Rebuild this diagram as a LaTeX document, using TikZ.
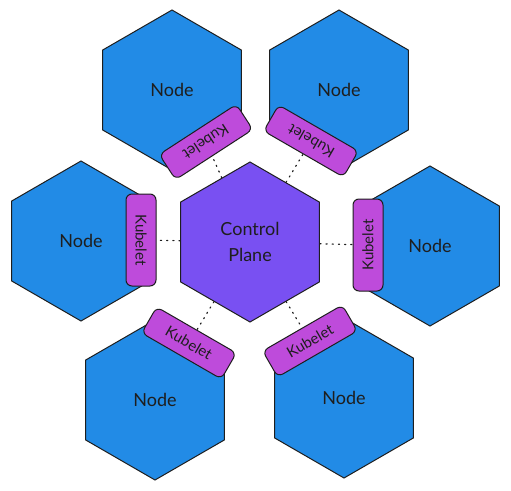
\documentclass[tikz,border=0pt]{standalone}
\usepackage{fontspec}
\setmainfont{Lato}
\usepackage{tikz}
\usetikzlibrary{shapes.geometric}
\usepackage{xcolor}
\definecolor{nodeblue}{HTML}{228BE6}
\definecolor{planeviolet}{HTML}{7950F2}
\definecolor{kubeletgrape}{HTML}{BE4BDB}
\definecolor{inkblack}{HTML}{1E1E1E}

\begin{document}
\begin{tikzpicture}[x=1pt, y=1pt,
  hexnode/.style={draw=inkblack, line width=1pt, regular polygon, regular polygon sides=6,
    regular polygon rotate=30, minimum size=160pt, inner sep=0pt, text=inkblack,
    font=\fontsize{18}{26}\selectfont, align=center},
  kubelet/.style={draw=inkblack, line width=1pt, rounded corners=6pt, fill=kubeletgrape,
    minimum width=92pt, minimum height=30pt, inner sep=0pt, text=inkblack,
    font=\fontsize{15}{18}\selectfont},
  link/.style={draw=inkblack, line width=1.2pt, dash pattern=on 1.2pt off 5pt, line cap=round},
]
\useasboundingbox (0,0) rectangle (511,-490);

\node[hexnode, fill=nodeblue] (nodeTL) at (172,-90) {Node};
\node[hexnode, fill=nodeblue] (nodeTR) at (339,-90) {Node};
\node[hexnode, fill=nodeblue] (nodeL) at (81,-241) {Node};
\node[hexnode, fill=nodeblue] (nodeR) at (430,-246) {Node};
\node[hexnode, fill=nodeblue] (nodeBL) at (155,-400) {Node};
\node[hexnode, fill=nodeblue] (nodeBR) at (344,-398) {Node};
\node[hexnode, fill=planeviolet] (plane) at (250,-242) {Control\\Plane};

\node[kubelet, rotate=-147] (kubeTL) at (206,-142) {Kubelet};
\node[kubelet, rotate=150] (kubeTR) at (311,-141) {Kubelet};
\node[kubelet, rotate=-90] (kubeL) at (141,-240) {Kubelet};
\node[kubelet, rotate=90] (kubeR) at (368,-245) {Kubelet};
\node[kubelet, rotate=-30] (kubeBL) at (189,-343) {Kubelet};
\node[kubelet, rotate=30] (kubeBR) at (310,-341) {Kubelet};

\draw[link] (plane) -- (kubeTL);
\draw[link] (plane) -- (kubeTR);
\draw[link] (plane) -- (kubeL);
\draw[link] (plane) -- (kubeR);
\draw[link] (plane) -- (kubeBL);
\draw[link] (plane) -- (kubeBR);
\end{tikzpicture}
\end{document}
